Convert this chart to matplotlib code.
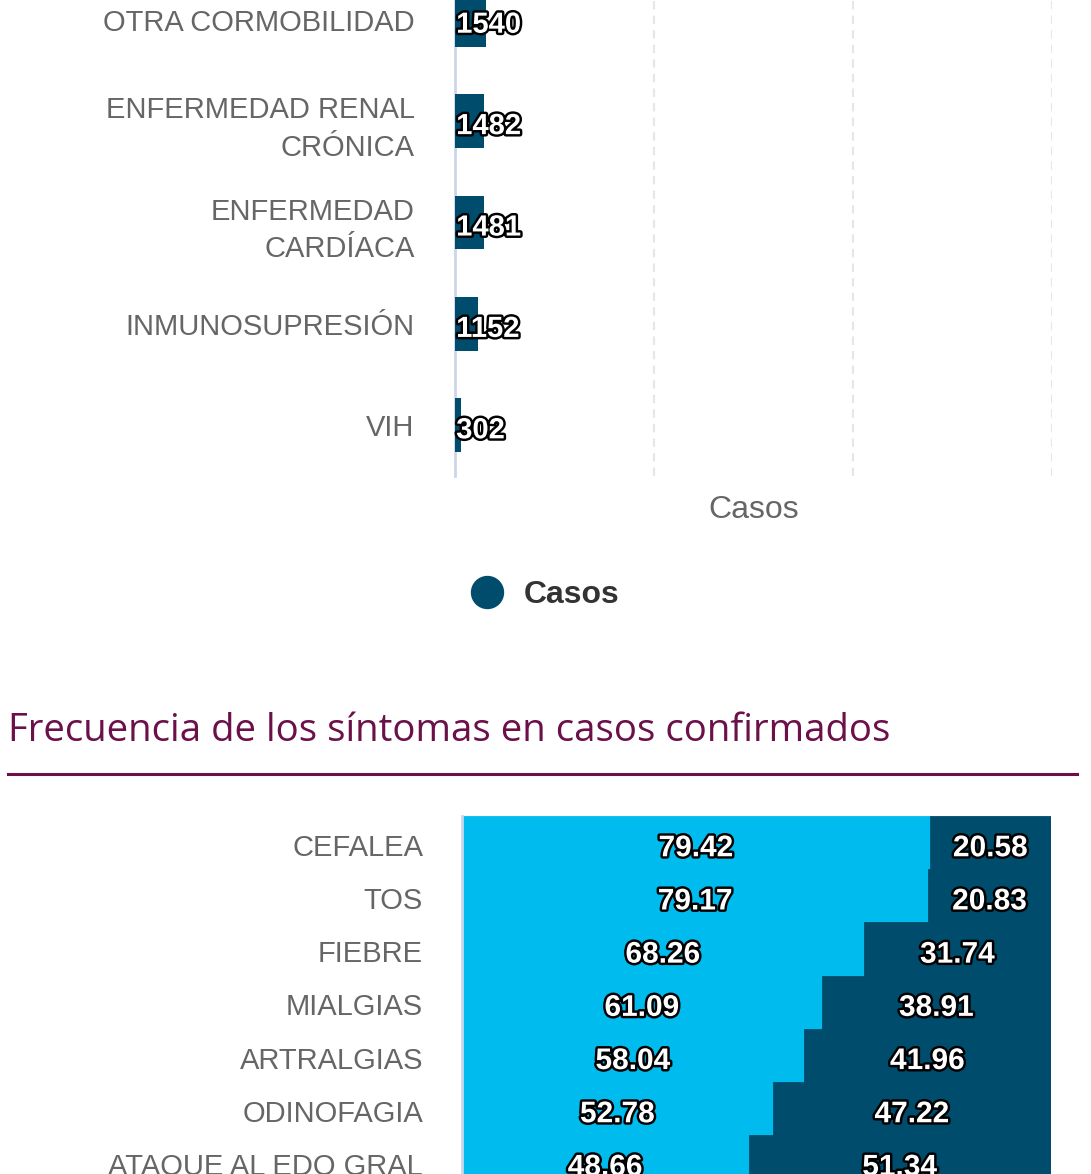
import numpy as np
import matplotlib.pyplot as plt
import matplotlib.patheffects as pe
from matplotlib.lines import Line2D

# Datos: comorbilidades (parte visible)
comorb = ['OTRA CORMOBILIDAD', 'ENFERMEDAD RENAL\nCRÓNICA', 'ENFERMEDAD\nCARDÍACA',
          'INMUNOSUPRESIÓN', 'VIH']
casos = [1540, 1482, 1481, 1152, 302]

# Datos: frecuencia de síntomas (%)
sintomas = ['CEFALEA', 'TOS', 'FIEBRE', 'MIALGIAS', 'ARTRALGIAS', 'ODINOFAGIA',
            'ATAQUE AL EDO GRAL']
pct_claro = [79.42, 79.17, 68.26, 61.09, 58.04, 52.78, 48.66]
pct_oscuro = [20.58, 20.83, 31.74, 38.91, 41.96, 47.22, 51.34]

W, H = 1091, 1174
OSCURO = '#004C6D'
CLARO = '#00BBED'
GUINDA = '#6B1048'
GRIS = '#666666'
EJE = '#ccd6eb'

plt.rcParams['font.family'] = ['Liberation Sans', 'DejaVu Sans']

fig = plt.figure(figsize=(W / 100, H / 100), dpi=100)


def rect(x0, y0, x1, y1):
    # coordenadas en pixeles (origen arriba a la izquierda) -> figura
    return [x0 / W, 1 - y1 / H, (x1 - x0) / W, (y1 - y0) / H]


contorno = [pe.withStroke(linewidth=3.5, foreground='black')]

# ---- grafico de comorbilidades ----
ax1 = fig.add_axes(rect(455, -31, 1052, 476))
y1 = np.arange(len(comorb))
ax1.barh(y1, casos, height=0.53, color=OSCURO, zorder=3)
ax1.set_ylim(len(comorb) - 0.5, -0.5)
ax1.set_xlim(0, 30000)
ax1.set_xticks([10000, 20000, 30000])
ax1.set_yticks(y1)
ax1.set_yticklabels(comorb, fontsize=21, color=GRIS, linespacing=1.45)
ax1.tick_params(axis='y', length=0, pad=29)
ax1.tick_params(axis='x', length=0, labelbottom=False)
ax1.grid(axis='x', color='#e6e6e6', linestyle=(0, (4, 3)), linewidth=1.5, zorder=0)
for s in ['top', 'right', 'bottom']:
    ax1.spines[s].set_visible(False)
ax1.spines['left'].set_color(EJE)
ax1.spines['left'].set_linewidth(2)
ax1.spines['left'].set_zorder(2)
ax1.set_xlabel('Casos', fontsize=23, color=GRIS, labelpad=14)
for yy, v in zip(y1, casos):
    ax1.text(60, yy + 0.02, str(v), ha='left', va='center_baseline', fontsize=21,
             fontweight='bold', color='white', path_effects=contorno, zorder=5)

h = Line2D([], [], marker='o', linestyle='none', markersize=23, color=OSCURO)
fig.legend([h], ['Casos'], loc='center', bbox_to_anchor=(537 / W, 1 - 595 / H),
           frameon=False, prop={'size': 23, 'weight': 'bold'}, labelcolor='#333333',
           handletextpad=0.15)

# ---- titulo de la seccion ----
fig.text(8 / W, 1 - 731 / H, 'Frecuencia de los síntomas en casos confirmados',
         family='Open Sans', fontsize=27.6, color=GUINDA, ha='left', va='center')
fig.add_artist(Line2D([8 / W, 1077 / W], [1 - 774 / H, 1 - 774 / H],
                      color=GUINDA, linewidth=2.2))

# ---- grafico de sintomas ----
ax2 = fig.add_axes(rect(462, 816, 1051, 816 + 53.2 * len(sintomas)))
y2 = np.arange(len(sintomas))
ax2.barh(y2, pct_claro, height=1.0, color=CLARO, edgecolor=CLARO, linewidth=0.6,
         zorder=3)
ax2.barh(y2, pct_oscuro, left=pct_claro, height=1.0, color=OSCURO, edgecolor=OSCURO,
         linewidth=0.6, zorder=3)
ax2.set_ylim(len(sintomas) - 0.5, -0.5)
ax2.set_xlim(0, 100)
ax2.set_yticks(y2 + 0.04)
ax2.set_yticklabels(sintomas, fontsize=21, color=GRIS)
ax2.tick_params(axis='y', length=0, pad=28)
ax2.tick_params(axis='x', length=0, labelbottom=False)
ax2.set_xticks([100])
ax2.grid(axis='x', color='#e6e6e6', linestyle=(0, (4, 3)), linewidth=1.5, zorder=0)
for s in ['top', 'right', 'bottom']:
    ax2.spines[s].set_visible(False)
ax2.spines['left'].set_color(EJE)
ax2.spines['left'].set_linewidth(2)
ax2.spines['left'].set_zorder(4)
for yy, a, b in zip(y2, pct_claro, pct_oscuro):
    ax2.text(a / 2, yy + 0.05, f'{a:.2f}', ha='center', va='center_baseline',
             fontsize=21.5, fontweight='bold', color='white', path_effects=contorno,
             zorder=5)
    ax2.text(a + b / 2, yy + 0.05, f'{b:.2f}', ha='center', va='center_baseline',
             fontsize=21.5, fontweight='bold', color='white', path_effects=contorno,
             zorder=5)

fig.savefig('out.png', dpi=100)
